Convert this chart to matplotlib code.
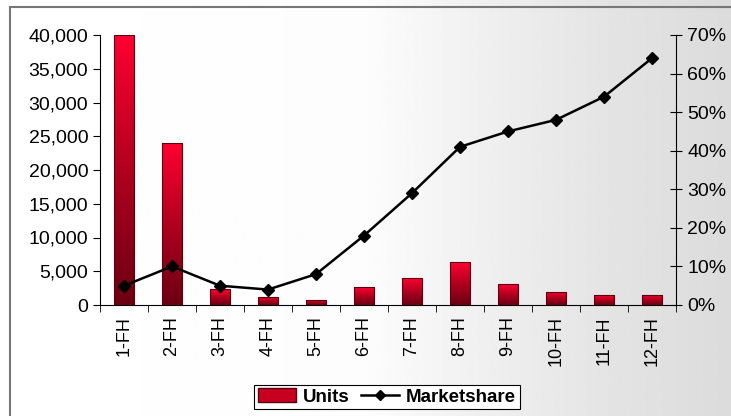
import numpy as np
import matplotlib.pyplot as plt
from matplotlib.colors import LinearSegmentedColormap
from matplotlib.ticker import FuncFormatter, FixedLocator
from matplotlib.patches import Patch
from matplotlib.lines import Line2D

plt.rcParams['font.family'] = ['Liberation Sans', 'DejaVu Sans']

# data
categories = ['1-FH', '2-FH', '3-FH', '4-FH', '5-FH', '6-FH',
              '7-FH', '8-FH', '9-FH', '10-FH', '11-FH', '12-FH']
units = [40000, 24000, 2350, 1200, 750, 2650, 3950, 6350, 3100, 2000, 1450, 1500]
marketshare = [0.05, 0.10, 0.05, 0.04, 0.08, 0.18, 0.29, 0.41, 0.45, 0.48, 0.54, 0.64]

fig = plt.figure(figsize=(7.31, 4.16), dpi=100)

# background: white on the left fading to light gray on the right
bg = fig.add_axes([0, 0, 1, 1], zorder=-10)
xs = np.linspace(0, 1, 400)
shade = np.interp(xs, [0, 0.5, 0.66, 0.85, 1.0], [1.0, 0.99, 0.94, 0.89, 0.86])
bg.imshow(shade[None, :], cmap='gray', vmin=0, vmax=1, aspect='auto',
          extent=[0, 1, 0, 1])
bg.plot([10 / 731, 10 / 731], [0, 1 - 7 / 416], color='#777777', lw=1.5)
bg.plot([10 / 731, 1], [1 - 7 / 416, 1 - 7 / 416], color='#777777', lw=1.5)
bg.set_xlim(0, 1)
bg.set_ylim(0, 1)
bg.axis('off')

ax = fig.add_axes([100 / 731, 1 - 305 / 416, 576 / 731, 270 / 416])
ax.patch.set_alpha(0)

x = np.arange(len(categories))
bars = ax.bar(x, units, width=0.42, color='none', edgecolor='#5a0010',
              linewidth=0.8, zorder=2)

# red gradient fill for each bar (bright at top, dark at bottom)
cmap = LinearSegmentedColormap.from_list('redgrad', ['#6b0012', '#b0001e', '#ff0030'])
grad = np.linspace(0, 1, 256)[:, None]
for b in bars:
    x0, w, h = b.get_x(), b.get_width(), b.get_height()
    im = ax.imshow(grad, cmap=cmap, aspect='auto', origin='lower',
                   extent=[x0, x0 + w, 0, h], zorder=1)
    im.set_clip_path(b)

ax.set_xlim(-0.5, len(categories) - 0.5)
ax.set_ylim(0, 40000)
ax.set_yticks(np.arange(0, 40001, 5000))
ax.yaxis.set_major_formatter(FuncFormatter(lambda v, p: f'{int(v):,}'))
ax.set_xticks(x)
ax.set_xticklabels(categories, rotation=90)
ax.xaxis.set_minor_locator(FixedLocator(np.arange(-0.5, len(categories), 1)))
ax.tick_params(axis='x', which='major', length=0, pad=8, labelsize=13)
ax.tick_params(axis='x', which='minor', length=5, direction='out')
ax.tick_params(axis='y', length=5, direction='out', labelsize=14)
for s in ['top', 'right']:
    ax.spines[s].set_visible(False)

ax2 = ax.twinx()
ax2.plot(x, marketshare, color='black', lw=1.8, marker='D', markersize=6.5, zorder=3)
ax2.set_ylim(0, 0.70)
ax2.set_yticks(np.arange(0, 0.71, 0.1))
ax2.yaxis.set_major_formatter(FuncFormatter(lambda v, p: f'{v * 100:.0f}%'))
ax2.tick_params(axis='y', length=9, direction='inout', labelsize=14)
for s in ['top', 'left', 'bottom']:
    ax2.spines[s].set_visible(False)

handles = [Patch(facecolor='#c8001f', edgecolor='#5a0010'),
           Line2D([], [], color='black', lw=1.8, marker='D', markersize=5)]
leg = fig.legend(handles, ['Units', 'Marketshare'], loc='center',
                 bbox_to_anchor=(387 / 731, 1 - 397 / 416), ncol=2,
                 prop={'weight': 'bold', 'size': 13.5}, frameon=True,
                 fancybox=False, edgecolor='black', framealpha=1,
                 handlelength=2.0, handletextpad=0.4, columnspacing=0.6,
                 borderpad=0.2)
leg.get_frame().set_linewidth(0.8)

fig.savefig('out.png', dpi=100)
